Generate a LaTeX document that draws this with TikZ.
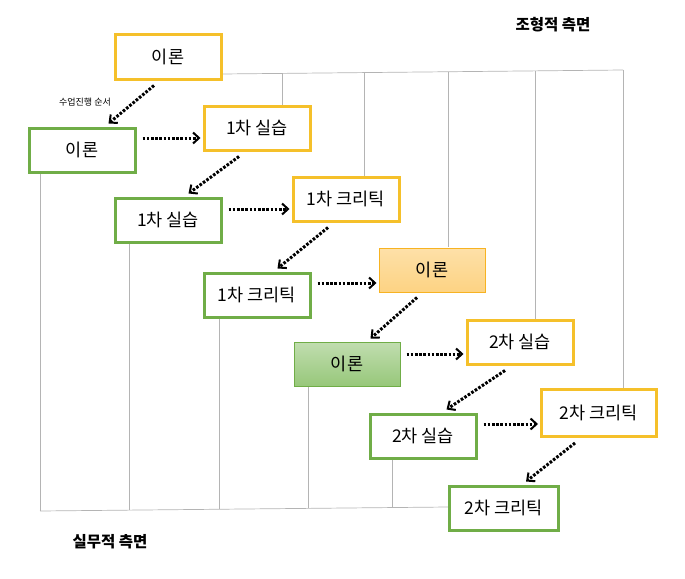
\documentclass[tikz,border=0pt]{standalone}
\usepackage{fontspec}
\setmainfont{Noto Sans CJK KR}
\usetikzlibrary{arrows.meta}
\definecolor{yel}{HTML}{F5C02A}
\definecolor{grn}{HTML}{70AD47}
\definecolor{ofill}{HTML}{FDD383}
\definecolor{gfill}{HTML}{97C77A}
\definecolor{gridc}{HTML}{B4B4B4}
\tikzset{
 box/.style={draw, line width=3pt, minimum width=106pt, minimum height=44pt, font=\fontsize{17.5}{19}\selectfont, inner sep=0pt},
 ybox/.style={box, draw=yel, fill=white},
 gbox/.style={box, draw=grn, fill=white},
 grid/.style={draw=gridc, line width=0.7pt},
 flow/.style={line width=3pt, dash pattern=on 2.6pt off 1.6pt, -{Straight Barb[length=6pt,width=11pt,line width=2pt]}},
 lbl/.style={font=\bfseries\fontsize{15.5}{17}\selectfont}
}
\begin{document}
\begin{tikzpicture}[x=1pt,y=-1pt]
\useasboundingbox (0,0) rectangle (685,578);
% grid
\coordinate (t0) at (222,74); \coordinate (t5) at (623,70);
\draw[grid] (t0) -- (t5);
\foreach \x/\yb in {282/105,364/176,448/247,535/319,623/388}{
  \draw[grid] (\x,{74-4*(\x-222)/401}) -- (\x,\yb);}
\draw[grid] (40,511) -- (448,507);
\foreach \x/\yt in {40/174,129/243,219/318,308/386,392/460}{
  \draw[grid] (\x,\yt) -- (\x,{511-4*(\x-40)/408});}
% boxes
\node[ybox] (a) at (168,57) {이론};
\node[gbox] (b) at (82,150) {이론};
\node[ybox] (c) at (257,128) {1차 실습};
\node[gbox] (d) at (168,220) {1차 실습};
\node[ybox] (e) at (346,199) {1차 크리틱};
\node[gbox] (f) at (257,295) {1차 크리틱};
\node[box, draw=yel!80!orange, line width=1pt, top color=ofill!70!white, bottom color=ofill] (g) at (432,270) {이론};
\node[box, draw=grn, line width=1pt, top color=gfill!60!white, bottom color=gfill] (h) at (347,364) {이론};
\node[ybox] (i) at (520,342) {2차 실습};
\node[gbox] (j) at (423,436) {2차 실습};
\node[ybox, minimum width=115pt, minimum height=47pt] (k) at (599,413) {2차 크리틱};
\node[gbox, minimum width=109pt] (l) at (504,508) {2차 크리틱};
% arrows
\draw[flow] ([xshift=-14pt,yshift=-5pt]a.south) -- ([xshift=-28pt,yshift=3pt]b.north east);
\draw[flow] ([xshift=6pt,yshift=12pt]b.east) -- ([xshift=-2pt,yshift=-10pt]c.west);
\draw[flow] ([xshift=-18pt,yshift=-5pt]c.south) -- ([xshift=-34pt,yshift=3pt]d.north east);
\draw[flow] ([xshift=6pt,yshift=11pt]d.east) -- ([xshift=-2pt,yshift=-10pt]e.west);
\draw[flow] ([xshift=-18pt,yshift=-5pt]e.south) -- ([xshift=-34pt,yshift=3pt]f.north east);
\draw[flow] ([xshift=6pt,yshift=12pt]f.east) -- ([xshift=-2pt,yshift=-13pt]g.west);
\draw[flow] ([xshift=-15pt,yshift=-5pt]g.south) -- ([xshift=-30pt,yshift=3pt]h.north east);
\draw[flow] ([xshift=6pt,yshift=10pt]h.east) -- ([xshift=-2pt,yshift=-12pt]i.west);
\draw[flow] ([xshift=-15pt,yshift=-5pt]i.south) -- ([xshift=-31pt,yshift=3pt]j.north east);
\draw[flow] ([xshift=6pt,yshift=12pt]j.east) -- ([xshift=-2pt,yshift=-11pt]k.west);
\draw[flow] ([xshift=-24pt,yshift=-5pt]k.south) -- ([xshift=-34pt,yshift=3pt]l.north east);
% labels
\node[font=\fontsize{9}{11}\selectfont] (s) at (85,102) {수업진행 순서};
\node[lbl] (t) at (553,25) {조형적 측면};
\node[lbl] (u) at (110,542) {실무적 측면};
\end{tikzpicture}
\end{document}
